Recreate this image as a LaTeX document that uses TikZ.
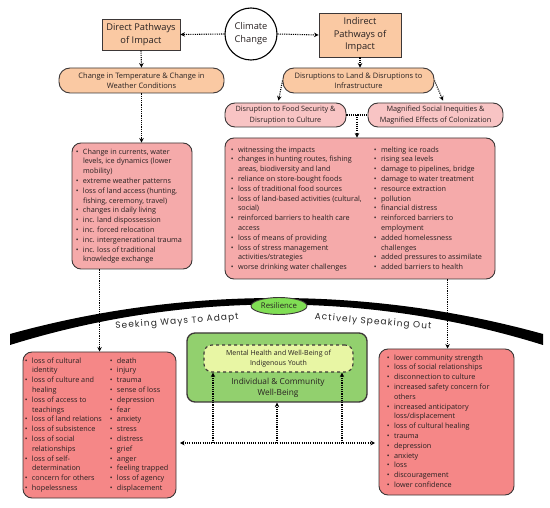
\documentclass[tikz,border=0pt]{standalone}
\usepackage{fontspec}
\setmainfont{Open Sans}
\newfontfamily\arcfont[LetterSpace=12]{Poppins}
\usetikzlibrary{arrows.meta,calc,shapes.geometric}
\definecolor{peach}{RGB}{250,201,163}
\definecolor{palepink}{RGB}{248,196,196}
\definecolor{pinkbox}{RGB}{245,170,170}
\definecolor{salmon}{RGB}{245,135,135}
\definecolor{gout}{RGB}{146,208,110}
\definecolor{gin}{RGB}{232,246,164}
\definecolor{gres}{RGB}{128,222,84}
\definecolor{edge}{RGB}{60,55,55}
\definecolor{txt}{RGB}{40,33,33}
\newcommand\bu{\makebox[7.2pt][l]{\textbullet}}
\newcommand\ct{\hspace*{7.2pt}}
\begin{document}
\begin{tikzpicture}[x=1pt,y=-1pt,
  box/.style={draw=edge, line width=0.9pt, text=txt, align=center, inner sep=0},
  pill/.style={box, rounded corners=11pt},
  card/.style={draw=edge, line width=0.9pt, rounded corners=9pt, inner sep=0},
  listtext/.style={inner sep=0, anchor=north west, align=left, text=txt, font=\fontsize{7.25}{9.8}\selectfont},
  flowline/.style={line width=1.1pt, dash pattern=on 1.1pt off 1.1pt, draw=black},
  flow/.style={flowline, -{Stealth[length=4.5pt,width=4.5pt]}},
  arctext/.style={font=\arcfont\fontsize{9}{10}\selectfont, text=black!85, inner sep=0}
]
\useasboundingbox (0,0) rectangle (550,508);

% top level
\node[circle, draw=black, line width=1.1pt, minimum size=52pt, inner sep=0, align=center,
      font=\fontsize{9.3}{13}\selectfont, text=txt] (clim) at (251,34) {Climate\\Change};
\node[box, fill=peach, minimum width=78pt, minimum height=31pt, font=\fontsize{9.3}{12.8}\selectfont]
      (direct) at (141,34.5) {Direct Pathways\\of Impact};
\node[box, fill=peach, minimum width=82pt, minimum height=44pt, font=\fontsize{9.3}{12.5}\selectfont]
      (indirect) at (360,35) {Indirect\\Pathways of\\Impact};

\node[pill, fill=peach, minimum width=165pt, minimum height=25pt, font=\fontsize{7.5}{10.6}\selectfont]
      (temp) at (141.5,80.5) {Change in Temperature \& Change in\\Weather Conditions};
\node[pill, fill=peach, minimum width=151pt, minimum height=25pt, font=\fontsize{7.5}{10.2}\selectfont]
      (land) at (358.5,80.5) {Disruptions to Land \& Disruptions to\\Infrastructure};
\node[pill, fill=palepink, minimum width=121pt, minimum height=24pt, rounded corners=10pt, font=\fontsize{7.3}{10.4}\selectfont]
      (food) at (285.5,115) {Disruption to Food Security \&\\Disruption to Culture};
\node[pill, fill=palepink, minimum width=135pt, minimum height=24pt, rounded corners=10pt, font=\fontsize{7.3}{10.4}\selectfont]
      (magn) at (435.5,115) {Magnified Social Inequities \&\\Magnified Effects of Colonization};

% list cards
\node[card, fill=pinkbox, minimum width=120pt, minimum height=126pt] (leftlist) at (132,206) {};
\node[listtext] (lltext) at (75.6,148.4) {%
\bu Change in currents, water\\
\ct levels, ice dynamics (lower\\
\ct mobility)\\
\bu extreme weather patterns\\
\bu loss of land access (hunting,\\
\ct fishing, ceremony, travel)\\
\bu changes in daily living\\
\bu inc. land dispossession\\
\bu inc. forced relocation\\
\bu inc. intergenerational trauma\\
\bu inc. loss of traditional\\
\ct knowledge exchange};

\node[card, fill=pinkbox, minimum width=270pt, minimum height=141pt] (big) at (360,208.5) {};
\node[listtext] (bigl) at (230.6,146.4) {%
\bu witnessing the impacts\\
\bu changes in hunting routes, fishing\\
\ct areas, biodiversity and land\\
\bu reliance on store-bought foods\\
\bu loss of traditional food sources\\
\bu loss of land-based activities (cultural,\\
\ct social)\\
\bu reinforced barriers to health care\\
\ct access\\
\bu loss of means of providing\\
\bu loss of stress management\\
\ct activities/strategies\\
\bu worse drinking water challenges};
\node[listtext] (bigr) at (373.6,146.4) {%
\bu melting ice roads\\
\bu rising sea levels\\
\bu damage to pipelines, bridge\\
\bu damage to water treatment\\
\bu resource extraction\\
\bu pollution\\
\bu financial distress\\
\bu reinforced barriers to\\
\ct employment\\
\bu added homelessness\\
\ct challenges\\
\bu added pressures to assimilate\\
\bu added barriers to health};

% arc band
\fill[black] (10,334) .. controls (183,286) and (370,286) .. (543,334)
   -- (543,345) .. controls (370,291) and (183,291) .. (10,345) -- cycle;
\node[ellipse, draw=edge, line width=0.9pt, fill=gres, minimum width=56pt, minimum height=17pt, inner sep=0,
      font=\fontsize{7.8}{9}\selectfont, text=txt] (resil) at (279,306) {Resilience};
\node[arctext, rotate=4.4] (seek) at (177,322) {Seeking Ways To Adapt};
\node[arctext, rotate=-4.8] (speak) at (373,322) {Actively Speaking Out};

% bottom cards
\node[card, fill=salmon, minimum width=153pt, minimum height=146pt] (bl) at (99.5,425) {};
\node[listtext] (bltl) at (24.6,357.4) {%
\bu loss of cultural\\
\ct identity\\
\bu loss of culture and\\
\ct healing\\
\bu loss of access to\\
\ct teachings\\
\bu loss of land relations\\
\bu loss of subsistence\\
\bu loss of social\\
\ct relationships\\
\bu loss of self-\\
\ct determination\\
\bu concern for others\\
\bu hopelessness};
\node[listtext] (bltr) at (109.6,357.4) {%
\bu death\\
\bu injury\\
\bu trauma\\
\bu sense of loss\\
\bu depression\\
\bu fear\\
\bu anxiety\\
\bu stress\\
\bu distress\\
\bu grief\\
\bu anger\\
\bu feeling trapped\\
\bu loss of agency\\
\bu displacement};

\node[card, fill=salmon, minimum width=135pt, minimum height=146pt] (br) at (446.5,422) {};
\node[listtext] (brt) at (386.6,354.4) {%
\bu lower community strength\\
\bu loss of social relationships\\
\bu disconnection to culture\\
\bu increased safety concern for\\
\ct others\\
\bu increased anticipatory\\
\ct loss/displacement\\
\bu loss of cultural healing\\
\bu trauma\\
\bu depression\\
\bu anxiety\\
\bu loss\\
\bu discouragement\\
\bu lower confidence};

% green well-being
\node[card, fill=gout, line width=1.3pt, rounded corners=8pt, minimum width=180pt, minimum height=69pt] (green) at (277,367.5) {};
\node[box, fill=gin, dashed, line width=1.1pt, rounded corners=8pt, minimum width=149pt, minimum height=27pt,
      font=\fontsize{7}{10}\selectfont] (inner) at (278.5,358.5) {Mental Health and Well-Being of\\Indigenous Youth};
\node[inner sep=0, align=center, text=txt, font=\fontsize{8.3}{11}\selectfont] (gtext) at (278,387.5) {Individual \& Community\\Well-Being};

% connectors
\draw[flow] (clim.west) -- (direct.east);
\draw[flow] (clim.east) -- (indirect.west);
\draw[flow] (direct.south) -- (temp.north);
\draw[flow] (indirect.south) -- (indirect.south |- land.north);
\draw[flow] (temp.south) -- (temp.south |- leftlist.north);
\draw[flow] (land.west) -- ($(food.north)+(-7,-2)$);
\draw[flow] (land.east) -- ($(magn.north)+(7.5,-2)$);
\draw[flowline] (food.east) -- (magn.west);
\coordinate (fm) at ($(food.east)!0.5!(magn.west)$);
\draw[flow] (fm) -- (fm |- big.north);
\coordinate (lls) at ($(leftlist.south west)+(28,0)$);
\draw[flow] (lls) -- (lls |- bl.north);
\coordinate (bgs) at ($(big.south west)+(223,0)$);
\draw[flow] (bgs) -- (bgs |- br.north);
\coordinate (hl) at (180,443);
\coordinate (hr) at (375,443);
\draw[flowline, {Stealth[length=4.5pt,width=4.5pt]}-{Stealth[length=4.5pt,width=4.5pt]}] (hl) -- (hr);
\coordinate (u1) at (213,443);
\coordinate (u2) at (277,443);
\coordinate (u3) at (342,443);
\draw[flow] (u1) -- (u1 |- inner.south);
\draw[flow] (u2) -- (u2 |- green.south);
\draw[flow] (u3) -- (u3 |- inner.south);
\end{tikzpicture}
\end{document}
